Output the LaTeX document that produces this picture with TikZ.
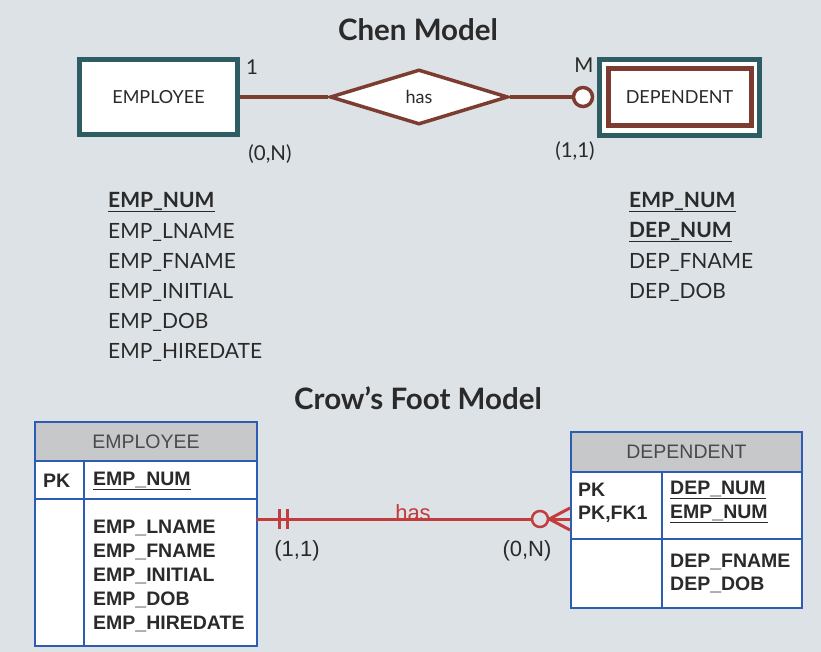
\documentclass[tikz,border=0pt]{standalone}
\usepackage{fontspec}
\setmainfont{Lato}
\newfontfamily\arialfont{Liberation Sans}
\usetikzlibrary{shapes.geometric}
\definecolor{bgray}{HTML}{DDE2E6}
\definecolor{chenteal}{HTML}{2D5D62}
\definecolor{chenbrown}{HTML}{7D3C30}
\definecolor{tabblue}{HTML}{2C5DB3}
\definecolor{tabhead}{HTML}{C6C8CA}
\definecolor{relred}{HTML}{C23B3D}
\definecolor{txtgray}{HTML}{2A2A2A}
\tikzstyle{title} = [font=\fontsize{29.5}{32}\selectfont\bfseries, text=txtgray]
\tikzstyle{entity} = [rectangle, draw=chenteal, line width=5pt, fill=white, minimum width=158pt, minimum height=75pt, inner sep=0pt, font=\fontsize{18}{21}\selectfont, text=txtgray]
\tikzstyle{weakinner} = [rectangle, draw=chenbrown, line width=5pt, fill=white, minimum width=143pt, minimum height=57pt, inner sep=0pt, font=\fontsize{18}{21}\selectfont, text=txtgray]
\tikzstyle{relation} = [diamond, draw=chenbrown, line width=3.5pt, fill=white, minimum width=178pt, minimum height=55pt, inner sep=0pt, font=\fontsize{18}{21}\selectfont, text=txtgray]
\tikzstyle{optcircle} = [circle, draw=chenbrown, line width=3.5pt, fill=white, minimum size=19pt, inner sep=0pt]
\tikzstyle{chenline} = [draw=chenbrown, line width=4pt]
\tikzstyle{card} = [font=\fontsize{20.5}{23}\selectfont, text=txtgray, inner sep=0pt]
\tikzstyle{attr} = [anchor=west, font=\fontsize{21}{24}\selectfont, text=txtgray, inner sep=0pt]
\tikzstyle{tabbox} = [rectangle, draw=tabblue, line width=2.5pt, fill=white, minimum width=222pt, inner sep=0pt, outer sep=0pt]
\tikzstyle{tabhd} = [tabbox, fill=tabhead, font=\arialfont\fontsize{19.5}{22}\selectfont, text=txtgray!85]
\tikzstyle{tabline} = [draw=tabblue, line width=2.5pt]
\tikzstyle{tabtext} = [anchor=west, font=\arialfont\bfseries\fontsize{19.5}{22}\selectfont, text=txtgray, inner sep=0pt]
\tikzstyle{relline} = [draw=relred, line width=3pt]
\tikzstyle{crowcircle} = [circle, draw=relred, line width=2.5pt, fill=bgray, minimum size=16pt, inner sep=0pt]
\tikzstyle{crowlabel} = [font=\arialfont\fontsize{22}{25}\selectfont, text=txtgray, inner sep=0pt]

\begin{document}
\begin{tikzpicture}[x=1pt, y=-1pt]
    \fill[bgray] (0,0) rectangle (821,652);
    \useasboundingbox (0,0) rectangle (821,652);

    % Chen model
    \node[title] (chenT) at (418,30) {Chen Model};
    \node[entity] (emp) at (158.5,97) {EMPLOYEE};
    \node[relation] (has) at (419,97) {has};
    \node[optcircle] (opt) at (583,97) {};
    \node[entity, minimum width=160pt, minimum height=76pt] (dep) at (679.5,97.5) {};
    \node[weakinner] (depin) at (dep) {DEPENDENT};
    \draw[chenline] (emp) -- (has);
    \draw[chenline] (has) -- (opt);
    \node[card] (c1) at (252,67) {1};
    \node[card] (c0n) at (270,154) {(0,N)};
    \node[card] (cM) at (584,65) {M};
    \node[card] (c11) at (575,151) {(1,1)};

    % attributes
    \node[attr] (ea1) at (108,202) {\textbf{\underline{EMP\_NUM}}};
    \node[attr] (ea2) at (108,232) {EMP\_LNAME};
    \node[attr] (ea3) at (108,262) {EMP\_FNAME};
    \node[attr] (ea4) at (108,292) {EMP\_INITIAL};
    \node[attr] (ea5) at (108,322) {EMP\_DOB};
    \node[attr] (ea6) at (108,352) {EMP\_HIREDATE};
    \node[attr] (da1) at (629,202) {\textbf{\underline{EMP\_NUM}}};
    \node[attr] (da2) at (629,232) {\textbf{\underline{DEP\_NUM}}};
    \node[attr] (da3) at (629,262) {DEP\_FNAME};
    \node[attr] (da4) at (629,292) {DEP\_DOB};

    % Crow's foot model
    \node[title] (crowT) at (418,398) {Crow’s Foot Model};

    \node[tabhd, minimum height=39pt] (empH) at (146,441.5) {EMPLOYEE};
    \node[tabbox, minimum height=38pt, anchor=north] (empK) at (empH.south) {};
    \node[tabbox, minimum height=147pt, anchor=north] (empA) at (empK.south) {};
    \draw[tabline] (empK.north -| 84,0) -- (empA.south -| 84,0);
    \node[tabtext] (empPK) at (43,481) {PK};
    \node[tabtext] (empNum) at (93,481) {\underline{EMP\_NUM}};
    \node[tabtext] (empL) at (93,528) {EMP\_LNAME};
    \node[tabtext] (empF) at (93,552) {EMP\_FNAME};
    \node[tabtext] (empI) at (93,576) {EMP\_INITIAL};
    \node[tabtext] (empD) at (93,600) {EMP\_DOB};
    \node[tabtext] (empHd) at (93,624) {EMP\_HIREDATE};

    \node[tabhd, minimum width=231pt, minimum height=40pt] (depH) at (686.5,452) {DEPENDENT};
    \node[tabbox, minimum width=231pt, minimum height=67pt, anchor=north] (depK) at (depH.south) {};
    \node[tabbox, minimum width=231pt, minimum height=69pt, anchor=north] (depA) at (depK.south) {};
    \draw[tabline] (depK.north -| 662,0) -- (depA.south -| 662,0);
    \node[tabtext] (depPK) at (578,490) {PK};
    \node[tabtext] (depFK) at (578,514) {PK,FK1};
    \node[tabtext] (depNum) at (670,490) {\underline{DEP\_NUM}};
    \node[tabtext] (depEmp) at (670,514) {\underline{EMP\_NUM}};
    \node[tabtext] (depF) at (670,562) {DEP\_FNAME};
    \node[tabtext] (depD) at (670,585) {DEP\_DOB};

    % relationship
    \coordinate (relL) at (256,519);
    \coordinate (relR) at (570,519);
    \node[crowcircle] (zero) at (540,519) {};
    \draw[relline] (relL) -- (zero);
    \draw[relline] ([xshift=23pt,yshift=10pt]relL) -- ([xshift=23pt,yshift=-10pt]relL);
    \draw[relline] ([xshift=31pt,yshift=10pt]relL) -- ([xshift=31pt,yshift=-10pt]relL);
    \draw[relline] (zero.east) -- (relR);
    \draw[relline] (zero.east) -- ([yshift=11pt]relR);
    \draw[relline] (zero.east) -- ([yshift=-11pt]relR);
    \node[crowlabel, text=relred] (hasL) at (413,513) {has};
    \node[crowlabel] (r11) at (297,551) {(1,1)};
    \node[crowlabel] (r0n) at (527,551) {(0,N)};
\end{tikzpicture}
\end{document}
